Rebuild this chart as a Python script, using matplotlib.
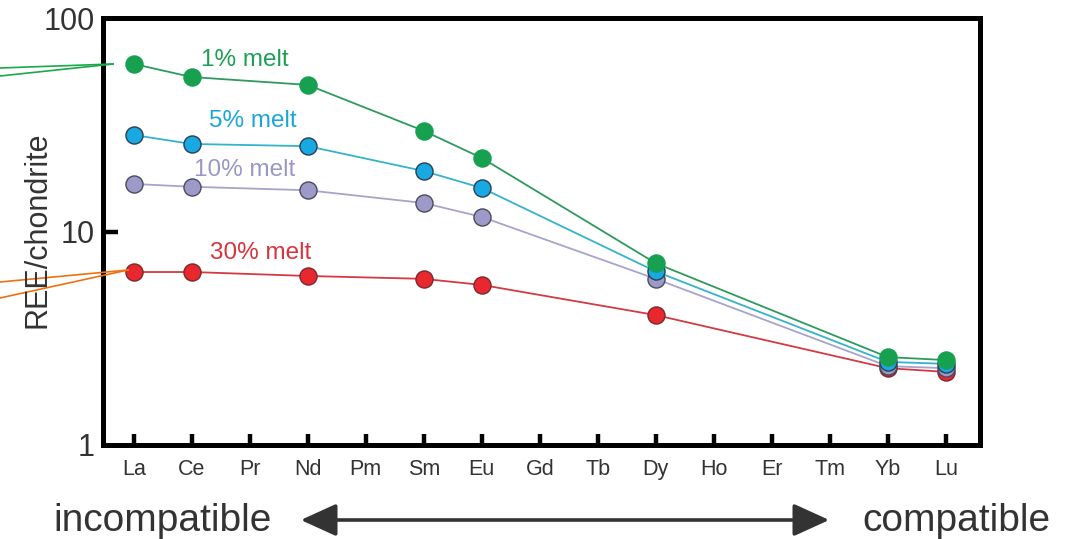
import matplotlib
matplotlib.use("Agg")
import matplotlib.pyplot as plt
from matplotlib.lines import Line2D
from matplotlib.patches import FancyArrowPatch

plt.rcParams['font.family'] = ['Liberation Sans', 'DejaVu Sans']

elements = ["La", "Ce", "Pr", "Nd", "Pm", "Sm", "Eu", "Gd", "Tb", "Dy", "Ho", "Er", "Tm", "Yb", "Lu"]
plotted = ["La", "Ce", "Nd", "Sm", "Eu", "Dy", "Yb", "Lu"]
melt_1 = [60.9, 52.9, 48.6, 29.6, 22.1, 7.1, 2.58, 2.50]
melt_5 = [28.3, 25.7, 25.1, 19.2, 16.0, 6.5, 2.45, 2.40]
melt_10 = [16.7, 16.2, 15.6, 13.6, 11.7, 6.0, 2.34, 2.29]
melt_30 = [6.46, 6.46, 6.19, 6.0, 5.62, 4.06, 2.29, 2.20]
series_labels = ["1% melt", "5% melt", "10% melt", "30% melt"]

W, H = 1074, 539
fig = plt.figure(figsize=(W / 100, H / 100), dpi=100)
ax = fig.add_axes([103 / W, 1 - 445 / H, (980 - 103) / W, (445 - 18) / H])

xpos = [elements.index(e) for e in plotted]

styles = [
    (melt_30, "#d33a44", "#e8272f", "#7a2a2e"),
    (melt_10, "#a7a4cc", "#9d9ac9", "#4a4a5e"),
    (melt_5, "#35b3c9", "#18a8e2", "#2b3e55"),
    (melt_1, "#2e9a5e", "#17a04f", "#17a04f"),
]
for vals, lc, fc, ec in styles:
    ax.plot(xpos, vals, color=lc, lw=1.3, zorder=2)
    ax.plot(xpos, vals, ls="none", marker="o", ms=12.3, mfc=fc, mec=ec, mew=1.0, zorder=3)

label_colors = ["#1f9e55", "#1aa6dc", "#9b97c5", "#d8343e"]
label_pos = [(1.91, 63.6), (2.05, 32.9), (1.91, 19.4), (2.19, 7.93)]
for lab, col, (lx, ly) in zip(series_labels, label_colors, label_pos):
    ax.text(lx, ly, lab, color=col, fontsize=17.5, ha="center", va="center")

ax.set_yscale("log")
ax.set_ylim(1, 100)
ax.set_xlim(-0.53, 14.59)
ax.set_xticks(range(len(elements)))
ax.set_xticklabels(elements)
ax.set_yticks([1, 10, 100])
ax.set_yticklabels(["1", "10", "100"])
ax.yaxis.set_minor_locator(matplotlib.ticker.NullLocator())

for sp in ax.spines.values():
    sp.set_linewidth(3.6)
    sp.set_color("black")
ax.tick_params(axis="x", direction="in", length=8, width=3.2, labelsize=15.5, pad=10, labelcolor="#333333")
ax.tick_params(axis="y", direction="in", length=11, width=3.2, labelsize=22, pad=6, labelcolor="#333333")
# hide the tick marks at 1 and 100 (they coincide with spines)
yt = ax.yaxis.get_major_ticks()
yt[0].tick1line.set_visible(False)
yt[2].tick1line.set_visible(False)

fig.text(38 / W, 1 - 230 / H, "REE/chondrite", rotation=90, fontsize=22, color="#333333",
         ha="center", va="center")

# pointer lines outside the axes
def px(x, y):
    return (x / W, 1 - y / H)

for (x0, y0), (x1, y1), c in [((0, 68), (113, 64), "#1aa84a"), ((0, 76), (113, 64), "#1aa84a"),
                              ((0, 282), (128, 270), "#f07010"), ((0, 298), (128, 270), "#f07010")]:
    a, b = px(x0, y0), px(x1, y1)
    fig.add_artist(Line2D([a[0], b[0]], [a[1], b[1]], color=c, lw=1.2, transform=fig.transFigure))

arrow = FancyArrowPatch(px(298, 520), px(832, 520), transform=fig.transFigure,
                        arrowstyle="<|-|>,head_length=1.1,head_width=0.5",
                        mutation_scale=20, color="#333333", lw=2.6)
fig.add_artist(arrow)
fig.text(272 / W, 1 - 521 / H, "incompatible", fontsize=28, color="#333333", ha="right", va="center")
fig.text(862 / W, 1 - 521 / H, "compatible", fontsize=28, color="#333333", ha="left", va="center")

fig.savefig("out.png", dpi=100)
